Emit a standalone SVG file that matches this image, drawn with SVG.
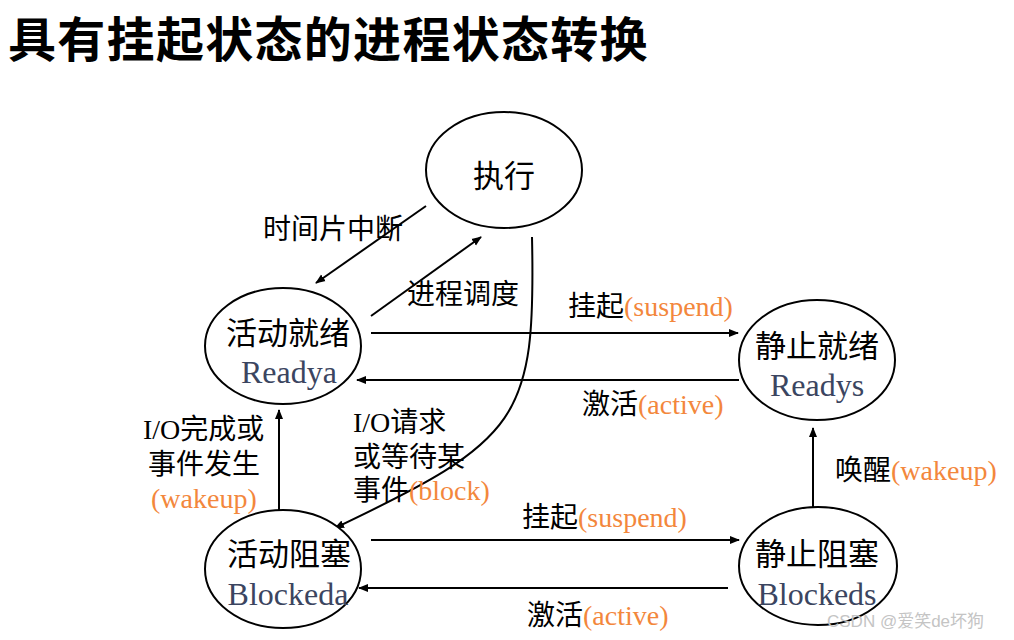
<svg xmlns="http://www.w3.org/2000/svg" width="1014" height="640" viewBox="0 0 1014 640">
<style>
.title{font-family:"Noto Sans CJK SC","Liberation Sans",sans-serif;font-weight:700;font-size:48px;letter-spacing:1.3px;fill:#000}
.node ellipse{fill:#fff;stroke:#000;stroke-width:2}
.cn{font-family:"Liberation Serif","Noto Sans CJK SC",serif;font-size:31px;fill:#000;text-anchor:middle}
.en{font-family:"Liberation Serif","Noto Sans CJK SC",serif;font-size:32px;fill:#3b4560;text-anchor:middle}
.lbl{font-family:"Liberation Serif","Noto Sans CJK SC",serif;font-size:28px;fill:#000}
.or{fill:#f3873c}
.edge{fill:none;stroke:#000;stroke-width:2}
.wm{font-family:"Liberation Sans","Noto Sans CJK SC",sans-serif;font-size:17px;fill:#c4c4c4}
</style>
<defs>
<marker id="ah" viewBox="0 0 10 10" refX="9" refY="5" markerWidth="10" markerHeight="10" markerUnits="userSpaceOnUse" orient="auto">
<path d="M0,1 L10,5 L0,9 z" fill="#000"/>
</marker>
</defs>
<rect width="1014" height="640" fill="#fff"/>
<text class="title" x="8" y="57">具有挂起状态的进程状态转换</text>

<g id="connectors">
<line class="edge" x1="426" y1="206" x2="316" y2="283" marker-end="url(#ah)"/>
<line class="edge" x1="371" y1="316" x2="481" y2="237" marker-end="url(#ah)"/>
<line class="edge" x1="371" y1="333" x2="738" y2="333" marker-end="url(#ah)"/>
<line class="edge" x1="739" y1="380" x2="357" y2="380" marker-end="url(#ah)"/>
<path class="edge" d="M532,237 C536,420 520,440 335,528" marker-end="url(#ah)"/>
<line class="edge" x1="279" y1="510" x2="279" y2="410" marker-end="url(#ah)"/>
<line class="edge" x1="371" y1="540" x2="739" y2="540" marker-end="url(#ah)"/>
<line class="edge" x1="728" y1="588" x2="359" y2="588" marker-end="url(#ah)"/>
<line class="edge" x1="813" y1="507" x2="813" y2="428" marker-end="url(#ah)"/>
</g>

<g id="labels">
<text class="lbl" x="263" y="239">时间片中断</text>
<text class="lbl" x="407" y="304">进程调度</text>
<text class="lbl" x="568" y="316">挂起<tspan class="or">(suspend)</tspan></text>
<text class="lbl" x="582" y="414">激活<tspan class="or">(active)</tspan></text>
<text class="lbl" x="353" y="432">I/O请求</text>
<text class="lbl" x="353" y="467">或等待某</text>
<text class="lbl" x="353" y="500">事件<tspan class="or">(block)</tspan></text>
<text class="lbl" x="143" y="439">I/O完成或</text>
<text class="lbl" x="148" y="474">事件发生</text>
<text class="lbl or" x="151" y="508">(wakeup)</text>
<text class="lbl" x="522" y="527">挂起<tspan class="or">(suspend)</tspan></text>
<text class="lbl" x="527" y="625">激活<tspan class="or">(active)</tspan></text>
<text class="lbl" x="835" y="480">唤醒<tspan class="or">(wakeup)</tspan></text>
</g>

<g id="run" class="node">
<ellipse cx="504" cy="170" rx="78" ry="58"/>
<text class="cn" x="504" y="187">执行</text>
</g>
<g id="readya" class="node">
<ellipse cx="283" cy="346" rx="78" ry="58"/>
<text class="cn" x="288" y="344">活动就绪</text>
<text class="en" x="289" y="383">Readya</text>
</g>
<g id="readys" class="node">
<ellipse cx="817" cy="360" rx="78" ry="60"/>
<text class="cn" x="817" y="357">静止就绪</text>
<text class="en" x="817" y="396">Readys</text>
</g>
<g id="blockeda" class="node">
<ellipse cx="283" cy="569" rx="78" ry="59"/>
<text class="cn" x="289" y="565">活动阻塞</text>
<text class="en" x="288" y="605">Blockeda</text>
</g>
<g id="blockeds" class="node">
<ellipse cx="818" cy="566" rx="79" ry="59"/>
<text class="cn" x="817" y="565">静止阻塞</text>
<text class="en" x="817" y="605">Blockeds</text>
</g>

<text class="wm" x="827" y="627">CSDN @爱笑de坏狗</text>
</svg>
